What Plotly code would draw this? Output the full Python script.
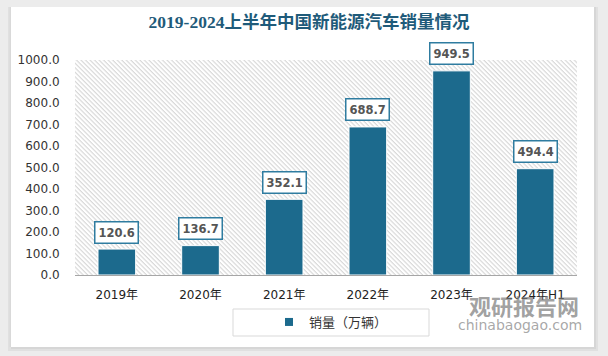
import base64
import plotly.graph_objects as go

categories = ["2019年", "2020年", "2021年", "2022年", "2023年", "2024年H1"]
sales = [120.6, 136.7, 352.1, 688.7, 949.5, 494.4]
series_name = "销量（万辆）"
title_text = "2019-2024上半年中国新能源汽车销量情况"
y_ticks = [0, 100, 200, 300, 400, 500, 600, 700, 800, 900, 1000]

BAR = "#1c6a8d"
W, H = 608, 356
ML, MR, MT, MB = 75, 31, 60, 81
PW, PH = W - ML - MR, H - MT - MB


def px_x(px):
    return (px - ML) / PW


def px_y(py):
    return (H - MB - py) / PH


svg = (
    f'<svg xmlns="http://www.w3.org/2000/svg" width="{PW}" height="{PH}">'
    '<defs><pattern id="p" width="3.2" height="3.2" patternUnits="userSpaceOnUse" '
    'patternTransform="rotate(-45)">'
    '<line x1="1" y1="0" x2="1" y2="3.2" stroke="#d6d6d6" stroke-width="1.1"/>'
    '</pattern></defs>'
    f'<rect width="{PW}" height="{PH}" fill="url(#p)"/></svg>'
)
hatch_uri = "data:image/svg+xml;base64," + base64.b64encode(svg.encode()).decode()

fig = go.Figure()
fig.add_trace(go.Bar(
    x=categories, y=sales, width=0.45,
    marker=dict(color=BAR, line=dict(color="white", width=1)),
    showlegend=False, hoverinfo="skip",
))
fig.add_trace(go.Scatter(
    x=[None], y=[None], mode="markers", name=series_name,
    marker=dict(symbol="square", size=8, color=BAR),
))

for c, v in zip(categories, sales):
    fig.add_annotation(
        x=c, y=v, text=f"<b>{v:.1f}</b>", showarrow=False, yshift=17,
        font=dict(family="DejaVu Sans", size=11.5, color="#555555"),
        bgcolor="white", bordercolor="#2f7ca0", borderwidth=1.5, borderpad=3,
    )

# watermark
fig.add_annotation(xref="paper", yref="paper", x=px_x(524), y=px_y(305),
                   xanchor="center", yanchor="middle",
                   text="<b>观研报告网</b>", showarrow=False,
                   font=dict(family="Noto Sans CJK SC", size=22, color="rgba(120,120,120,0.7)"))
fig.add_annotation(xref="paper", yref="paper", x=px_x(520), y=px_y(325),
                   xanchor="center", yanchor="middle",
                   text="chinabaogao.com", showarrow=False,
                   font=dict(family="DejaVu Sans", size=14, color="rgba(130,130,130,0.7)"))

shapes = []
# gray frame around the white card (outside of it)
frame = "#ececec"
edge = "#e0e0e0"
L, R, T, B = 11, 594, 7, 347
for x0, x1, y0, y1, col in [
    (0, L, 0, H, frame), (R, W, 0, H, frame), (0, W, 0, T, frame), (0, W, B, H, frame),
    (L - 3, L, T, B + 3, edge), (R, R + 4, T, B + 4, edge), (L - 3, R + 4, B, B + 4, edge),
    (L - 1.5, L, T, B, "#d9d9d9"), (R, R + 2, T, B + 2, "#d6d6d6"), (L, R + 2, B, B + 2, "#d6d6d6"),
]:
    shapes.append(dict(type="rect", xref="paper", yref="paper", layer="below",
                       x0=px_x(x0), x1=px_x(x1), y0=px_y(y1), y1=px_y(y0),
                       line=dict(width=0), fillcolor=col))
# legend box
shapes.append(dict(type="rect", xref="paper", yref="paper", layer="above",
                   x0=px_x(233), x1=px_x(429), y0=px_y(336), y1=px_y(309),
                   line=dict(width=1, color="#d9d9d9"), fillcolor="rgba(0,0,0,0)"))

fig.update_layout(
    width=W, height=H,
    margin=dict(l=ML, r=MR, t=MT, b=MB, autoexpand=False),
    paper_bgcolor="white",
    plot_bgcolor="rgba(0,0,0,0)",
    shapes=shapes,
    images=[dict(source=hatch_uri, xref="paper", yref="paper", x=0, y=1,
                 sizex=1, sizey=1, sizing="stretch", xanchor="left", yanchor="top",
                 layer="below")],
    title=dict(text=f"<b>{title_text}</b>", x=309 / W, xanchor="center",
               y=1 - 22 / H, yanchor="middle",
               font=dict(family="Liberation Serif, Noto Sans CJK SC", size=17.5, color="#1f5b7a")),
    font=dict(family="DejaVu Sans, Noto Sans CJK SC", size=12, color="#333333"),
    xaxis=dict(showgrid=False, showline=True, linecolor="#a6a6a6", linewidth=1,
               ticks="outside", ticklen=9, tickcolor="rgba(0,0,0,0)",
               tickfont=dict(family="DejaVu Sans, Noto Sans CJK SC", size=12, color="#222222"),
               fixedrange=True),
    yaxis=dict(range=[0, 1000], tickvals=y_ticks, tickformat=".1f",
               showgrid=False, showline=False, zeroline=False,
               ticks="outside", ticklen=12, tickcolor="rgba(0,0,0,0)",
               tickfont=dict(family="DejaVu Sans", size=12, color="#333333"),
               fixedrange=True),
    legend=dict(orientation="h", x=px_x(331), xanchor="center", y=px_y(322), yanchor="middle",
                bgcolor="rgba(0,0,0,0)", itemwidth=30,
                font=dict(family="Noto Sans CJK SC", size=13, color="#333333")),
    bargap=0.55,
)

fig.write_html("out.html", config={"displayModeBar": False},
               post_script="document.body.style.margin='0';document.body.style.overflow='hidden';")
